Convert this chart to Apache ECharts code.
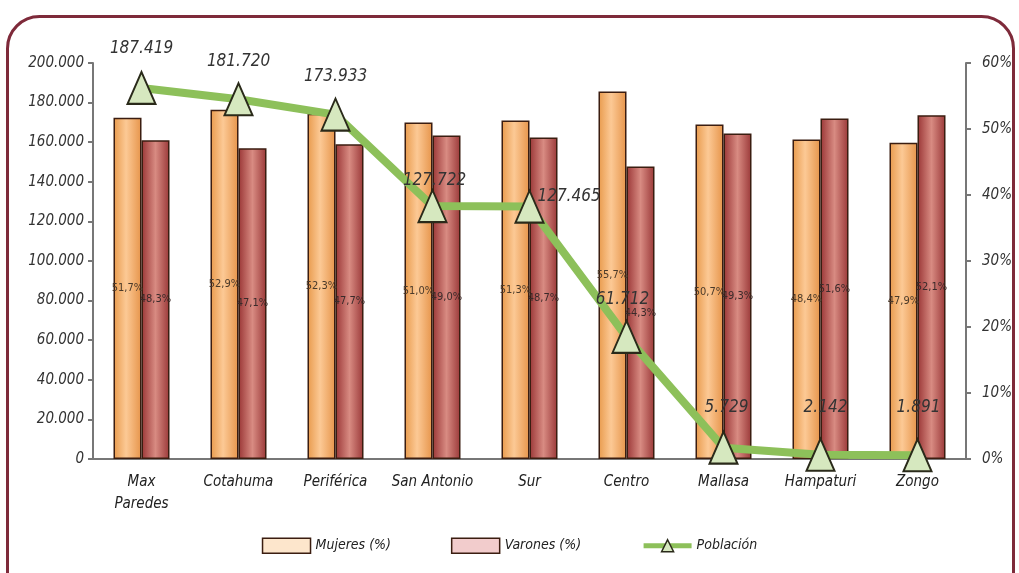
<!DOCTYPE html>
<html>
<head>
<meta charset="utf-8">
<script src="https://cdn.jsdelivr.net/npm/echarts@6/dist/echarts.min.js"></script>
<style>
html,body{margin:0;padding:0;background:#fff;}
#c{width:1019px;height:573px;}
</style>
</head>
<body>
<div id="c"></div>
<script>
var categories = ['Max\nParedes','Cotahuma','Periférica','San Antonio','Sur','Centro','Mallasa','Hampaturi','Zongo'];
var mujeres = [51.7, 52.9, 52.3, 51.0, 51.3, 55.7, 50.7, 48.4, 47.9];
var varones = [48.3, 47.1, 47.7, 49.0, 48.7, 44.3, 49.3, 51.6, 52.1];
var poblacion = [187419, 181720, 173933, 127722, 127465, 61712, 5729, 2142, 1891];
var leftTicks = [0, 20000, 40000, 60000, 80000, 100000, 120000, 140000, 160000, 180000, 200000];
var rightTicks = [0, 10, 20, 30, 40, 50, 60];

var FONT = "'Liberation Sans Narrow', 'DejaVu Sans Condensed', 'Liberation Sans', sans-serif";
function thousands(v){ return String(Math.round(v)).replace(/\B(?=(\d{3})+(?!\d))/g, '.'); }
function pct(v){ return v.toFixed(1).replace('.', ',') + '%'; }

// label placement style for the population labels (offsets in px)
var popLabelStyle = [
  {pos:'top', off:[0,-9]}, {pos:'top', off:[0,-7]}, {pos:'top', off:[0,-7]},
  {pos:'top', off:[2,5]}, {pos:'right', off:[-12,-10]}, {pos:'top', off:[-4,-7]},
  {pos:'top', off:[3,-10]}, {pos:'top', off:[5,-17]}, {pos:'top', off:[1,-17]}
];

var chart = echarts.init(document.getElementById('c'), null, {renderer:'canvas'});

var mujGrad = new echarts.graphic.LinearGradient(0,0,1,0,[
  {offset:0, color:'#e89a4c'},{offset:0.45, color:'#fcc995'},{offset:1, color:'#e6944a'}]);
var varGrad = new echarts.graphic.LinearGradient(0,0,1,0,[
  {offset:0, color:'#9a3636'},{offset:0.5, color:'#d88b82'},{offset:1, color:'#9a3838'}]);

var option = {
  backgroundColor:'#fff',
  animation:false,
  graphic:[{
    type:'rect', left:6, top:15, z:-10,
    shape:{width:1006, height:600, r:32},
    style:{fill:'#fff', stroke:'#7e2a3a', lineWidth:3}
  }],
  grid:{left:93, right:53, top:63, bottom:114},
  legend:{
    bottom:14, left:'center', itemGap:60, itemWidth:48, itemHeight:15,
    textStyle:{fontFamily:FONT, fontStyle:'italic', fontSize:14, color:'#222'},
    data:[
      {name:'Mujeres (%)', icon:'rect', itemStyle:{color:'#fde6cc', borderColor:'#3b1d10', borderWidth:1.5}},
      {name:'Varones (%)', icon:'rect', itemStyle:{color:'#f2cccc', borderColor:'#3b1d10', borderWidth:1.5}},
      {name:'Población', itemStyle:{color:'#d6e8bf', borderColor:'#2a2a1a', borderWidth:1.5}, lineStyle:{color:'#8dc05a', width:5}}
    ]
  },
  xAxis:{
    type:'category', data:categories, boundaryGap:true,
    axisLine:{lineStyle:{color:'#777', width:2}},
    axisTick:{show:false},
    axisLabel:{fontFamily:FONT, fontStyle:'italic', fontSize:15, color:'#222', margin:12, lineHeight:22, interval:0}
  },
  yAxis:[{
    type:'value', min:0, max:200000, interval:20000, position:'left',
    axisLine:{show:true, lineStyle:{color:'#777', width:2}},
    axisTick:{show:true, length:5, lineStyle:{color:'#777', width:2}},
    splitLine:{show:false},
    axisLabel:{fontFamily:FONT, fontStyle:'italic', fontSize:15, color:'#333', margin:9,
      formatter:function(v){ return thousands(v); }}
  },{
    type:'value', min:0, max:60, interval:10, position:'right',
    axisLine:{show:true, lineStyle:{color:'#777', width:2}},
    axisTick:{show:true, length:5, lineStyle:{color:'#777', width:2}},
    splitLine:{show:false},
    axisLabel:{fontFamily:FONT, fontStyle:'italic', fontSize:15, color:'#333', margin:16,
      formatter:function(v){ return v + '%'; }}
  }],
  series:[{
    name:'Mujeres (%)', type:'bar', yAxisIndex:1, data:mujeres,
    barWidth:28, barGap:'0%', barCategoryGap:'40%',
    itemStyle:{color:mujGrad, borderColor:'#3b1d10', borderWidth:1.5},
    label:{show:true, position:'inside', fontFamily:FONT, fontSize:11, color:'#4a3a2a',
      formatter:function(p){ return pct(p.value); }},
    z:2
  },{
    name:'Varones (%)', type:'bar', yAxisIndex:1, data:varones,
    barWidth:28, barGap:'0%',
    itemStyle:{color:varGrad, borderColor:'#3b1d10', borderWidth:1.5},
    label:{show:true, position:'inside', fontFamily:FONT, fontSize:11, color:'#3a2a2a',
      formatter:function(p){ return pct(p.value); }},
    z:2
  },{
    name:'Población', type:'line', yAxisIndex:0,
    data:poblacion.map(function(v,i){
      var s = popLabelStyle[i];
      return {value:v, label:{position:s.pos, offset:s.off}};
    }),
    lineStyle:{color:'#8dc05a', width:8},
    symbol:'triangle', symbolSize:[28,32],
    itemStyle:{color:'#d6e8bf', borderColor:'#2a2a1a', borderWidth:2},
    label:{show:true, distance:5, fontFamily:FONT, fontStyle:'italic', fontSize:17, color:'#333',
      formatter:function(p){ return thousands(p.value); }},
    z:5
  }]
};
chart.setOption(option);
</script>
</body>
</html>
